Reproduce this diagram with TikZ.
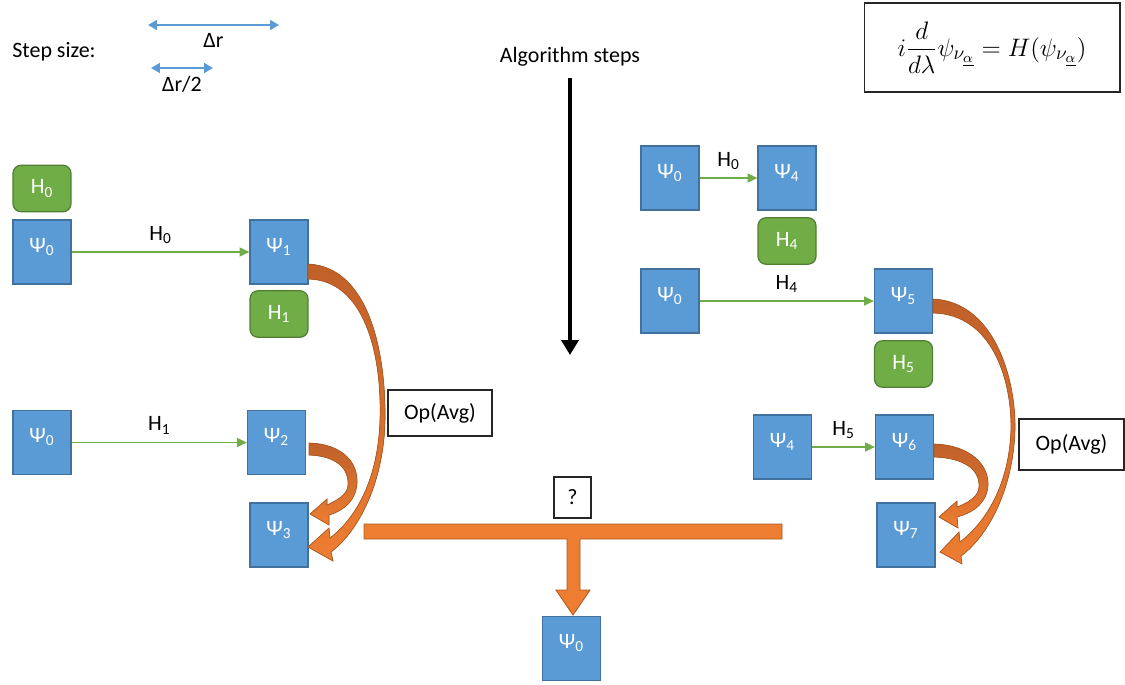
\documentclass[tikz,border=0pt]{standalone}
\usepackage{fontspec}
\setmainfont{Carlito}
\usepackage{amsmath}
\usepackage{xcolor}
\usetikzlibrary{arrows.meta}
\definecolor{psiblue}{HTML}{5B9BD5}
\definecolor{psiedge}{HTML}{41719C}
\definecolor{hamgreen}{HTML}{70AD47}
\definecolor{hamedge}{HTML}{507E32}
\definecolor{avgorange}{HTML}{ED7D31}
\definecolor{avgdark}{HTML}{C0602A}
\definecolor{avgedge}{HTML}{AE5A21}
\tikzset{psibox/.style={draw=psiedge, line width=0.7pt, fill=psiblue, text=white,
   minimum width=1.16cm, minimum height=1.28cm, text height=0.3cm, text depth=0.3cm, inner sep=0pt},
 hambox/.style={draw=hamedge, line width=0.7pt, fill=hamgreen, text=white, rounded corners=0.16cm,
   minimum width=1.16cm, minimum height=0.93cm, inner sep=0pt},
 harrow/.style={draw=hamgreen, line width=0.9pt, -{Triangle[length=5.5pt,width=5pt]}},
 sizearrow/.style={draw=psiblue, line width=1.1pt, {Triangle[length=5pt,width=5.5pt]}-{Triangle[length=5pt,width=5.5pt]}},
 textbox/.style={draw=black!85, line width=0.6pt, fill=white, inner sep=0pt},
 blockarrow/.style={top color=avgdark, bottom color=avgorange, draw=avgedge, line width=0.4pt},
 }

\begin{document}
\begin{tikzpicture}[x=0.02cm, y=-0.02cm, font=\fontsize{12.5}{15}\selectfont]
    \useasboundingbox (0,0) rectangle (1125,684);
    % step sizes
    \node (stepsize) at (54,52) {Step size:};
    \coordinate (dra) at (148,25);
    \coordinate (drb) at (279,25);
    \coordinate (hra) at (151,68);
    \coordinate (hrb) at (213,68);
    \draw[sizearrow] (dra) -- (drb) node[midway, below=1pt] {Δr};
    \draw[sizearrow] (hra) -- (hrb) node[midway, below=1pt] {Δr/2};
    % equation and step direction
    \node[textbox, minimum width=5.12cm, minimum height=1.78cm] (eqn) at (992,47.5)
        {\fontsize{15.5}{18}\selectfont $\displaystyle i\frac{d}{d\lambda}\psi_{\nu_{\underline{\alpha}}} = H(\psi_{\nu_{\underline{\alpha}}})$};
    \node (algo) at (570,57) {Algorithm steps};
    \coordinate (stepstop) at (570,78);
    \coordinate (stepsend) at (570,355);
    \draw[line width=2.6pt, -{Triangle[length=8.5pt,width=9.6pt]}] (stepstop) -- (stepsend);

    % left half
    \node[hambox] (h0) at (42,188.5) {H\textsubscript{0}};
    \node[psibox] (psiA) at (42,252) {Ψ\textsubscript{0}};
    \node[psibox] (psi1) at (279,252) {Ψ\textsubscript{1}};
    \node[hambox] (h1) at (279,314) {H\textsubscript{1}};
    \node[psibox] (psiB) at (42,442.5) {Ψ\textsubscript{0}};
    \node[psibox] (psi2) at (276.5,442.5) {Ψ\textsubscript{2}};
    \node[psibox] (psi3) at (279,535) {Ψ\textsubscript{3}};
    \node[textbox, minimum width=2.08cm, minimum height=0.92cm] (avgL) at (440,413) {Op(Avg)};
    \draw[harrow] (psiA) -- (psi1) node[midway, above=1pt, text=black] {H\textsubscript{0}};
    \draw[harrow] (psiB) -- (psi2) node[midway, above=1pt, text=black] {H\textsubscript{1}};
    \filldraw[blockarrow] (308,264) .. controls (370,267) and (386,355) .. (385,420)
        .. controls (384,480) and (360,530) .. (331,552) -- (333,561) -- (308,547) -- (329,528) -- (330,538)
        .. controls (356,518) and (378,480) .. (380,420) .. controls (382,355) and (365,280) .. (308,279) -- cycle;
    \filldraw[blockarrow] (309,443) .. controls (342,444) and (358,462) .. (357,483)
        .. controls (356,500) and (345,510) .. (329,515) -- (329,525) -- (310,514) -- (327,499) -- (327,505)
        .. controls (338,500) and (348,494) .. (348,485) .. controls (349,468) and (336,456) .. (309,455) -- cycle;

    % right half
    \node[psibox] (psiC) at (670,178) {Ψ\textsubscript{0}};
    \node[psibox] (psi4) at (787,178) {Ψ\textsubscript{4}};
    \node[hambox] (h4) at (787,241) {H\textsubscript{4}};
    \node[psibox] (psiD) at (670,301) {Ψ\textsubscript{0}};
    \node[psibox] (psi5) at (903.5,301) {Ψ\textsubscript{5}};
    \node[hambox] (h5) at (903.5,364) {H\textsubscript{5}};
    \node[psibox] (psiE) at (782.5,447) {Ψ\textsubscript{4}};
    \node[psibox] (psi6) at (904.5,447) {Ψ\textsubscript{6}};
    \node[psibox] (psi7) at (906,535) {Ψ\textsubscript{7}};
    \node[textbox, minimum width=2.1cm, minimum height=1.02cm] (avgR) at (1071.5,444.5) {Op(Avg)};
    \draw[harrow] (psiC) -- (psi4) node[midway, above=1pt, text=black] {H\textsubscript{0}};
    \draw[harrow] (psiD) -- (psi5) node[midway, above=1pt, text=black] {H\textsubscript{4}};
    \draw[harrow] (psiE) -- (psi6) node[midway, above=1pt, text=black] {H\textsubscript{5}};
    \filldraw[blockarrow] (933,299) .. controls (995,302) and (1016,380) .. (1015,430)
        .. controls (1013,490) and (988,536) .. (961,556) -- (962,564) -- (940,552) -- (959,532) -- (960,542)
        .. controls (986,522) and (1009,485) .. (1011,430) .. controls (1012,380) and (992,314) .. (933,313) -- cycle;
    \filldraw[blockarrow] (934,444) .. controls (970,445) and (989,465) .. (988,485)
        .. controls (987,502) and (975,512) .. (957,517) -- (958,528) -- (939,517) -- (957,501) -- (957,507)
        .. controls (968,503) and (979,496) .. (979,487) .. controls (980,470) and (965,458) .. (934,457) -- cycle;

    % merge
    \node[textbox, minimum width=0.74cm, minimum height=0.82cm] (quest) at (572.5,497.5) {?};
    \filldraw[fill=avgorange, draw=avgedge, line width=0.5pt] (364,524) -- (782,524) -- (782,539) -- (580,539)
        -- (580,590) -- (590,590) -- (573,615) -- (556,590) -- (567,590) -- (567,539) -- (364,539) -- cycle;
    \node[psibox] (psiF) at (571.5,648.5) {Ψ\textsubscript{0}};
\end{tikzpicture}
\end{document}
